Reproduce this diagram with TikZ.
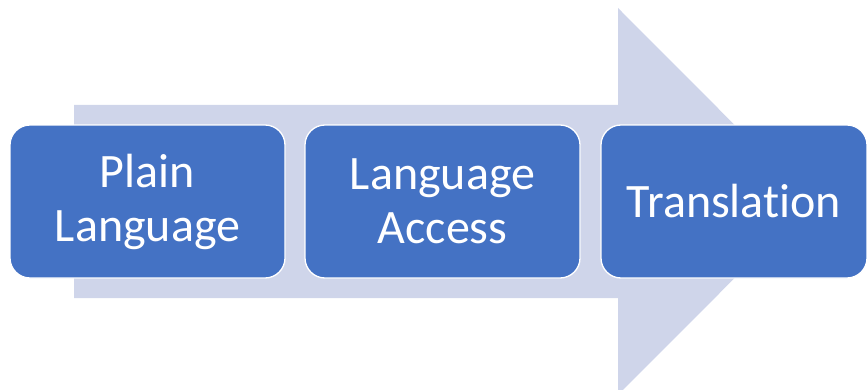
\documentclass[tikz,border=0pt]{standalone}
\usepackage{fontspec}
\setmainfont[Ligatures=NoCommon]{Carlito}
\definecolor{stepblue}{HTML}{4472C4}
\definecolor{arrowfill}{HTML}{CFD5EA}
\begin{document}
\begin{tikzpicture}[x=1pt,y=1pt,
  stage/.style={rounded corners=20pt, fill=stepblue, draw=white, line width=1.3pt,
    text=white, align=center, inner sep=0pt, minimum height=153pt,
    font=\fontsize{48}{54}\selectfont}]
  \useasboundingbox (0,0) rectangle (867,389);
  \clip (0,0) rectangle (867,389);
  % broad process arrow behind the stages
  \fill[arrowfill] (74,91) -- (618,91) -- (618,-6) -- (811,187.5) -- (618,381)
    -- (618,284) -- (74,284) -- cycle;
  % stages
  \node[stage, minimum width=275pt] (plain) at (147.5,187.5) {Plain\\Language};
  \node[stage, minimum width=275pt] (access) at (442.5,187.5) {Language\\Access};
  \node[stage, minimum width=266pt] (transl) at (734,187.5) {Translation};
\end{tikzpicture}
\end{document}
